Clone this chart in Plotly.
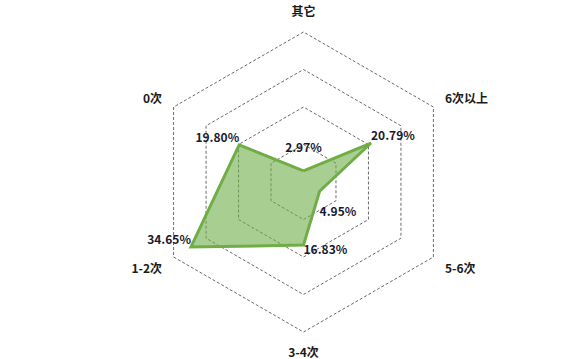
import plotly.graph_objects as go

categories = ["其它", "6次以上", "5-6次", "3-4次", "1-2次", "0次"]
values = [2.97, 20.79, 4.95, 16.83, 34.65, 19.80]
labels = ["2.97%", "20.79%", "4.95%", "16.83%", "34.65%", "19.80%"]
text_pos = ["top center", "top right", "bottom right", "bottom right", "top left", "top left"]
# extra blank line to push a few labels farther from their point (as in the original)
text_pad = ["below", "", "above", "", "", ""]

font_family = "Noto Sans CJK SC, Noto Sans, sans-serif"

R_MAX = 40.4  # slightly beyond the 40 ring so the outer dashed ring is drawn
cx, cy, R = 303.5, 182.0, 150.0
half = R * R_MAX / 40
W, H = 577, 359

texts = []
for lab, pad in zip(labels, text_pad):
    if pad == "below":
        texts.append(lab + "<br> ")
    elif pad == "above":
        texts.append(" <br>" + lab)
    else:
        texts.append(lab)

fig = go.Figure()
fig.add_trace(go.Scatterpolar(
    r=values + [values[0]],
    theta=categories + [categories[0]],
    mode="lines+text",
    text=texts + [""],
    textposition=text_pos + ["top center"],
    textfont=dict(family=font_family, size=12, color="#1a1a2e", weight="bold"),
    line=dict(color="#70ad47", width=3),
    fill="toself",
    fillcolor="rgba(112,173,71,0.6)",
    showlegend=False,
    hoverinfo="skip",
))

fig.update_layout(
    width=W, height=H,
    margin=dict(l=0, r=0, t=0, b=0),
    paper_bgcolor="white",
    plot_bgcolor="white",
    polar=dict(
        domain=dict(x=[(cx - half) / W, (cx + half) / W],
                    y=[(H - cy - half) / H, (H - cy + half) / H]),
        gridshape="linear",
        bgcolor="white",
        radialaxis=dict(
            range=[0, R_MAX], dtick=10, tick0=0,
            showticklabels=False, ticks="", showline=False,
            gridcolor="#6a6a6a", griddash="3px,2px", gridwidth=1,
        ),
        angularaxis=dict(
            rotation=90, direction="clockwise",
            showgrid=False, showline=False,
            ticks="outside", ticklen=9, tickcolor="rgba(0,0,0,0)",
            tickfont=dict(family=font_family, size=12, color="#1a1a1a", weight="bold"),
        ),
    ),
)

fig.write_html("out.html", config={"displayModeBar": False},
               post_script="document.body.style.margin='0';")
